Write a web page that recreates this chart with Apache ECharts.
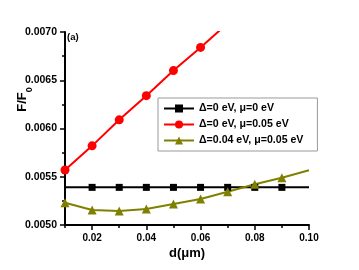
<!DOCTYPE html>
<html><head><meta charset="utf-8">
<script src="https://cdn.jsdelivr.net/npm/echarts@6/dist/echarts.min.js"></script>
<style>html,body{margin:0;padding:0;background:#fff}#c{width:359px;height:270px}</style>
</head><body><div id="c"></div>
<script>
const dValues = [0.01,0.02,0.03,0.04,0.05,0.06,0.07,0.08,0.09,0.10];
const blackVals = [0.00539,0.00539,0.00539,0.00539,0.00539,0.00539,0.00539,0.00539,0.00539,0.00539];
const redD = [0.01,0.02,0.03,0.04,0.05,0.06,0.07];
const redVals = [0.00557,0.00582,0.00609,0.00634,0.00660,0.00684,0.00709];
const oliveVals = [0.00523,0.005156,0.005145,0.005166,0.005218,0.00527,0.005345,0.005422,0.00549,0.005567];
const xTicks = [0.02,0.04,0.06,0.08,0.10];
const legendNames = ['\u0394=0 eV, \u03bc=0 eV','\u0394=0 eV, \u03bc=0.05 eV','\u0394=0.04 eV, \u03bc=0.05 eV'];

const FONT = '"Liberation Sans", Arial, sans-serif';
function pts(xs, ys, hideIdx) {
  return xs.map((x,i)=> hideIdx.includes(i) ? {value:[x,ys[i]], symbol:'none'} : [x,ys[i]]);
}
const chart = echarts.init(document.getElementById('c'), null, {renderer:'canvas'});
chart.setOption({
  animation:false,
  backgroundColor:'#fff',
  graphic:[{type:'text', left:67, top:32, z:100,
    style:{text:'(a)', fontFamily:FONT, fontWeight:'bold', fontSize:9.5, fill:'#000'}}],
  grid:{left:65, right:50, top:32, bottom:45, containLabel:false, outerBoundsMode:'none'},
  legend:{
    orient:'vertical', left:158, top:98,
    padding:[5,14,5,5], itemGap:5, itemWidth:30, itemHeight:10,
    borderColor:'#999', borderWidth:1, backgroundColor:'#fff',
    textStyle:{fontFamily:FONT, fontWeight:'bold', fontSize:10.6, color:'#000'},
    data:legendNames
  },
  xAxis:[{
    type:'value', min:0.01, max:0.10,
    axisLine:{show:true, lineStyle:{color:'#000', width:2}},
    axisTick:{show:true, customValues:xTicks, length:5, lineStyle:{color:'#000', width:1.5}},
    axisLabel:{customValues:xTicks, margin:8, fontFamily:FONT, fontWeight:'bold', fontSize:10, color:'#000', formatter:v=>v.toFixed(2)},
    splitLine:{show:false},
    name:'d(\u03bcm)', nameLocation:'middle', nameGap:22, nameMoveOverlap:false,
    nameTextStyle:{fontFamily:FONT, fontWeight:'bold', fontSize:13, color:'#000'}
  },{
    type:'value', min:0.01, max:0.10, interval:0.01, position:'bottom',
    axisLine:{show:false}, axisLabel:{show:false}, splitLine:{show:false},
    axisTick:{show:true, length:3, lineStyle:{color:'#000', width:1.5}}
  }],
  yAxis:{
    type:'value', min:0.005, max:0.007, interval:0.0005,
    axisLine:{show:true, lineStyle:{color:'#000', width:2}},
    axisTick:{show:true, length:5, lineStyle:{color:'#000', width:1.5}},
    minorTick:{show:true, splitNumber:2, length:3, lineStyle:{color:'#000', width:1.5}},
    axisLabel:{margin:8, fontFamily:FONT, fontWeight:'bold', fontSize:10.5, color:'#000', formatter:v=>v.toFixed(4)},
    splitLine:{show:false},
    name:'{a|F/F}{b|0}', nameLocation:'middle', nameGap:31, nameRotate:90, nameMoveOverlap:false,
    nameTextStyle:{fontFamily:FONT, fontWeight:'bold', fontSize:13, color:'#000', padding:[0,0,0,58],
      rich:{a:{fontFamily:FONT, fontWeight:'bold', fontSize:13, lineHeight:18, verticalAlign:'top'},
            b:{fontFamily:FONT, fontWeight:'bold', fontSize:9, lineHeight:18, verticalAlign:'bottom'}}}
  },
  series:[
    {name:legendNames[0], type:'line', data:pts(dValues, blackVals, [0,9]), symbol:'rect', symbolSize:7,
     lineStyle:{color:'#000', width:2}, itemStyle:{color:'#000'}},
    {name:legendNames[1], type:'line', data:pts(redD, redVals, []), symbol:'circle', symbolSize:9,
     lineStyle:{color:'#ff0000', width:2}, itemStyle:{color:'#ff0000'}},
    {name:legendNames[2], type:'line', data:pts(dValues, oliveVals, [9]), symbol:'triangle', symbolSize:9,
     lineStyle:{color:'#808000', width:2}, itemStyle:{color:'#808000'}}
  ]
});
</script></body></html>
